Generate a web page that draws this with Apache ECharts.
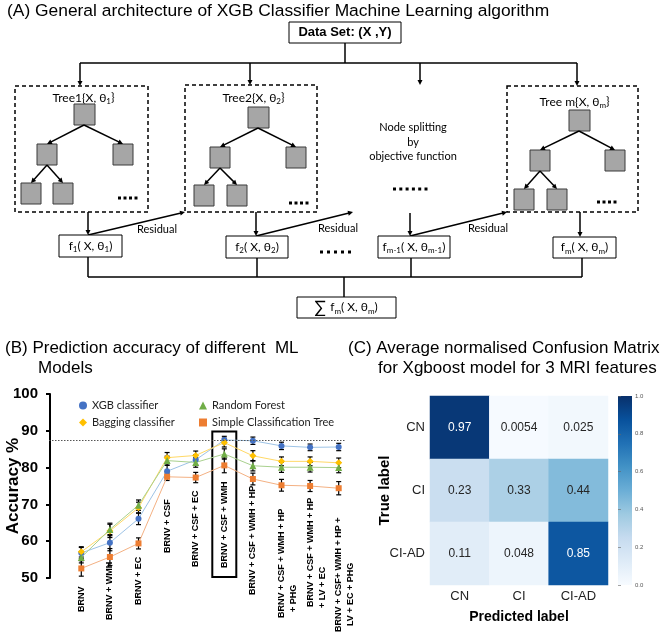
<!DOCTYPE html>
<html>
<head>
<meta charset="utf-8">
<script src="https://cdn.jsdelivr.net/npm/echarts@6/dist/echarts.min.js"></script>
<style>
  html, body { margin: 0; padding: 0; background: #fff; }
  #main { width: 668px; height: 632px; }
</style>
</head>
<body>
<div id="main"></div>
<script>
// ---- data (B) accuracy per feature set ----
const categories = [
  'BRNV', 'BRNV + WMH', 'BRNV + EC', 'BRNV + CSF', 'BRNV + CSF + EC', 'BRNV + CSF + WMH',
  'BRNV + CSF + WMH + HP', 'BRNV + CSF + WMH + HP\n+ PHG', 'BRNV + CSF + WMH + HP\n+ LV + EC',
  'BRNV + CSF+ WMH + HP +\nLV + EC + PHG'
]
const xgbAcc = [56.8, 59.6, 66.1, 79.0, 82.1, 87.5, 87.3, 85.9, 85.5, 85.6]
const bagAcc = [57.1, 62.8, 69.1, 82.7, 83.3, 86.8, 83.2, 81.7, 81.7, 81.3]
const rfAcc = [55.6, 63.2, 69.8, 81.9, 81.4, 83.7, 80.5, 80.1, 80.1, 80.0]
const dtAcc = [52.6, 55.7, 59.4, 77.5, 77.3, 80.6, 76.9, 75.2, 75.0, 74.4]
const xgbErr = [1.5, 2.2, 1.6, 1.6, 1.4, 1.0, 1.0, 1.0, 0.9, 1.0]
const bagErr = [1.4, 1.8, 1.5, 1.4, 1.2, 1.2, 1.4, 1.2, 1.2, 1.3]
const rfErr = [1.5, 1.7, 1.4, 1.2, 1.3, 1.4, 1.4, 1.4, 1.3, 1.4]
const dtErr = [2.1, 2.3, 1.5, 1.0, 1.4, 2.0, 1.6, 1.6, 1.5, 1.8]
const refAcc = 87.3
const yTicks = [50, 60, 70, 80, 90, 100]

// ---- data (C) confusion matrix ----
const cmLabels = ['CN', 'CI', 'CI-AD']
const cmValues = [
  [0.97, 0.0054, 0.025],
  [0.23, 0.33, 0.44],
  [0.11, 0.048, 0.85]
]
const cbTicks = [0, 0.2, 0.4, 0.6, 0.8, 1.0]

// label layout (screen y where each rotated line starts)
const labelStart = [[612], [620], [605], [553], [567], [568], [595], [618, 612], [607, 608], [632, 626]]

const FONT = '"Liberation Sans", Arial, sans-serif'
const SOFT = 'Lato, "Noto Sans", sans-serif'
const blues = ['#f7fbff', '#deebf7', '#c6dbef', '#9ecae1', '#6baed6', '#4292c6', '#2171b5', '#08519c', '#08306b']

const chart = echarts.init(document.getElementById('main'))

// ---- diagram helpers ----
function ln (x1, y1, x2, y2, w) {
  return { type: 'line', silent: true, shape: { x1, y1, x2, y2 }, style: { stroke: '#000', lineWidth: w || 1.5 } }
}
function arrow (x1, y1, x2, y2) {
  const a = Math.atan2(y2 - y1, x2 - x1)
  const s = 5
  const p1 = [x2 - s * Math.cos(a) + 2.5 * Math.sin(a), y2 - s * Math.sin(a) - 2.5 * Math.cos(a)]
  const p2 = [x2 - s * Math.cos(a) - 2.5 * Math.sin(a), y2 - s * Math.sin(a) + 2.5 * Math.cos(a)]
  return [
    ln(x1, y1, x2 - 3 * Math.cos(a), y2 - 3 * Math.sin(a)),
    { type: 'polygon', silent: true, shape: { points: [[x2, y2], p1, p2] }, style: { fill: '#000' } }
  ]
}
function node (x, y, w, h) {
  return { type: 'rect', silent: true, shape: { x, y, width: w, height: h }, style: { fill: '#a6a6a6', stroke: '#3a3a3a', lineWidth: 1 } }
}
function box (x, y, w, h, dashed) {
  return {
    type: 'rect', silent: true, shape: { x, y, width: w, height: h },
    style: { fill: dashed ? 'none' : '#fff', stroke: '#000', lineWidth: dashed ? 1.5 : 1, lineDash: dashed ? [4, 3] : null }
  }
}
function txt (x, y, text, font, opt) {
  return {
    type: 'text', silent: true, x, y,
    style: Object.assign({ text, font, fill: '#000', align: 'center', verticalAlign: 'middle' }, opt || {})
  }
}
function dots (x0, y, n, gap) {
  const out = []
  for (let i = 0; i < n; i++) {
    out.push({ type: 'rect', silent: true, shape: { x: x0 + i * gap, y: y - 1.5, width: 3, height: 3 }, style: { fill: '#000' } })
  }
  return out
}
const subRich = {
  n: { fontSize: 12, fontFamily: SOFT, lineHeight: 15, fill: '#000' },
  s: { fontSize: 8, fontFamily: SOFT, lineHeight: 8, verticalAlign: 'bottom', fill: '#000' },
  b: { fontSize: 17, fontFamily: SOFT, lineHeight: 15, fill: '#000' }
}
function subTxt (x, y, text, align) {
  return {
    type: 'text', silent: true, x, y,
    style: { text, rich: subRich, font: '12px ' + SOFT, fill: '#000', align: align || 'center', verticalAlign: 'middle' }
  }
}
// tree title "TreeK{X, θk}" : rich part right-aligned at xr, closing brace after it
function treeTitle (xr, y, name, sub) {
  return [
    subTxt(xr, y, '{n|' + name + '{X, θ}{s|' + sub + '}', 'right'),
    txt(xr, y - 0.5, '}', '12px ' + SOFT, { align: 'left' })
  ]
}
function tree (t, rx, ry, lc, rc, g1, g2, dx) {
  return [
    ...treeTitle(t[0], t[1], t[2], t[3]),
    node(rx, ry, 21, 21), node(lc[0], lc[1], 20, 21), node(rc[0], rc[1], 20, 21),
    node(g1[0], g1[1], 20, 21), node(g2[0], g2[1], 20, 21),
    ...arrow(rx + 10, ry + 21, lc[0] + 10, lc[1]),
    ...arrow(rx + 10, ry + 21, rc[0] + 10, rc[1]),
    ...arrow(lc[0] + 10, lc[1] + 21, g1[0] + 10, g1[1]),
    ...arrow(lc[0] + 10, lc[1] + 21, g2[0] + 10, g2[1]),
    ...dots(dx[0], dx[1], 4, 5.5)
  ]
}

const cbStops = blues.map((c, i) => ({ offset: i / (blues.length - 1), color: c }))

const staticGraphic = [
  // titles
  txt(7, 11, '(A) General architecture of XGB Classifier Machine Learning algorithm', '17.4px ' + FONT, { align: 'left' }),
  txt(5, 348, '(B) Prediction accuracy of different  ML', '17px ' + FONT, { align: 'left' }),
  txt(38, 368, 'Models', '17px ' + FONT, { align: 'left' }),
  txt(348, 348, '(C) Average normalised Confusion Matrix', '17px ' + FONT, { align: 'left' }),
  txt(378, 368, 'for Xgboost model for 3 MRI features', '17px ' + FONT, { align: 'left' }),
  // data set
  box(289, 22, 112, 21),
  txt(345, 32.5, 'Data Set: (X ,Y)', 'bold 13px ' + FONT),
  ln(345, 43, 345, 63), ln(80, 63, 577, 63),
  ...arrow(80, 63, 80, 86), ...arrow(250, 63, 250, 85), ...arrow(420, 63, 420, 85), ...arrow(577, 63, 577, 86),
  // tree boxes
  box(15, 86, 133, 126, true), box(185, 85, 132, 127, true), box(507, 86, 131, 126, true),
  ...tree([111, 98, 'Tree1', '1'], 74, 104, [37, 144], [113, 144], [21, 183], [53, 183], [118, 198]),
  ...tree([281, 98, 'Tree2', '2'], 248, 107, [210, 147], [286, 147], [194, 185], [227, 185], [289, 203]),
  ...tree([606, 102, 'Tree m', 'm'], 569, 110, [530, 150], [605, 150], [514, 189], [547, 189], [597, 202]),
  txt(413, 127, 'Node splitting', '11px ' + SOFT),
  txt(413, 142, 'by', '11px ' + SOFT),
  txt(413, 156, 'objective function', '11px ' + SOFT),
  ...dots(393, 189, 6, 6.3),
  // arrows to f boxes
  ...arrow(88, 212, 88, 235), ...arrow(256, 212, 256, 236), ...arrow(410, 213, 410, 236), ...arrow(580, 212, 580, 237),
  ...arrow(88, 235, 185, 212), ...arrow(256, 236, 353, 212), ...arrow(410, 236, 507, 212),
  txt(157, 229, 'Residual', '11px ' + SOFT), txt(338, 228, 'Residual', '11px ' + SOFT), txt(488, 228, 'Residual', '11px ' + SOFT),
  ...dots(320, 252, 5, 7),
  // f boxes
  box(59, 235, 63, 22), subTxt(90.5, 246, '{n|f}{s|1}{n|( X, θ}{s|1}{n|)}'),
  box(226, 236, 62, 22), subTxt(257, 247, '{n|f}{s|2}{n|( X, θ}{s|2}{n|)}'),
  box(378, 236, 72, 22), subTxt(414, 247, '{n|f}{s|m-1}{n|( X, θ}{s|m-1}{n|)}'),
  box(553, 237, 63, 21), subTxt(584.5, 247.5, '{n|f}{s|m}{n|( X, θ}{s|m}{n|)}'),
  // combine
  ln(88, 257, 88, 277), ln(257, 258, 257, 277), ln(411, 258, 411, 277), ln(582, 258, 582, 277),
  ln(88, 277, 582, 277), ln(344, 277, 344, 297),
  box(297, 297, 99, 21), subTxt(346, 307.5, '{b|∑ }{n|f}{s|m}{n|( X, θ}{s|m}{n|)}'),
  // colour bar for the confusion matrix
  {
    type: 'rect', silent: true, shape: { x: 618, y: 396, width: 14, height: 189 },
    style: { fill: { type: 'linear', x: 0, y: 1, x2: 0, y2: 0, colorStops: cbStops } }
  }
]

// ---- series ----
function lineSeries (name, data, symbol, mark, lineCol, size) {
  return {
    name, type: 'line', data, symbol, symbolSize: size, xAxisIndex: 0, yAxisIndex: 0, z: 3,
    itemStyle: { color: mark }, lineStyle: { color: lineCol, width: 1 }, emphasis: { disabled: true }
  }
}
const errData = []
;[[xgbAcc, xgbErr], [bagAcc, bagErr], [rfAcc, rfErr], [dtAcc, dtErr]].forEach(([acc, err]) => {
  acc.forEach((v, i) => errData.push([i, v - err[i], v + err[i]]))
})
function errRender (params, api) {
  const lo = api.coord([api.value(0), api.value(1)])
  const hi = api.coord([api.value(0), api.value(2)])
  const st = { stroke: '#000', lineWidth: 1.2 }
  return {
    type: 'group',
    children: [
      { type: 'line', shape: { x1: lo[0], y1: lo[1], x2: hi[0], y2: hi[1] }, style: st },
      { type: 'line', shape: { x1: lo[0] - 2.5, y1: lo[1], x2: lo[0] + 2.5, y2: lo[1] }, style: st },
      { type: 'line', shape: { x1: hi[0] - 2.5, y1: hi[1], x2: hi[0] + 2.5, y2: hi[1] }, style: st }
    ]
  }
}

const heatData = []
cmValues.forEach((row, i) => row.forEach((v, j) => {
  heatData.push({ value: [j, i, v], label: { color: v > 0.6 ? '#fff' : '#262626' } })
}))

const xgbSeries = lineSeries('XGB classifier', xgbAcc, 'circle', '#4472c4', '#9dc3e6', 6)
xgbSeries.markLine = {
  silent: true, symbol: 'none', label: { show: false },
  lineStyle: { color: '#555', type: [1.5, 1.5], width: 1 },
  data: [[{ x: 49, yAxis: refAcc }, { x: 346, yAxis: refAcc }]]
}

const option = {
  animation: false,
  backgroundColor: '#fff',
  textStyle: { fontFamily: FONT },
  grid: [
    { left: 67, top: 394, width: 286, height: 184, outerBoundsMode: 'none' },
    { left: 430, top: 396, width: 178, height: 189, outerBoundsMode: 'none' },
    { left: 618, top: 396, width: 14, height: 189, outerBoundsMode: 'none' }
  ],
  legend: [
    {
      orient: 'vertical', left: 74, top: 395, itemWidth: 8, itemHeight: 8, itemGap: 6, selectedMode: false,
      textStyle: { fontFamily: SOFT, fontSize: 11, color: '#222' },
      data: [{ name: 'XGB classifier', icon: 'circle' }, { name: 'Bagging classifier', icon: 'diamond' }]
    },
    {
      orient: 'vertical', left: 194, top: 395, itemWidth: 8, itemHeight: 8, itemGap: 6, selectedMode: false,
      textStyle: { fontFamily: SOFT, fontSize: 11, color: '#222' },
      data: [{ name: 'Random Forest', icon: 'triangle' }, { name: 'Simple Classification Tree', icon: 'rect' }]
    }
  ],
  xAxis: [
    {
      gridIndex: 0, type: 'category', data: categories, boundaryGap: true,
      axisLine: { show: false }, axisTick: { show: false }, axisLabel: { show: false }
    },
    {
      gridIndex: 1, type: 'category', data: cmLabels,
      axisLine: { show: false }, axisTick: { show: false },
      axisLabel: { fontSize: 13, color: '#222', margin: 5 },
      name: 'Predicted label', nameLocation: 'middle', nameGap: 25, nameMoveOverlap: false,
      nameTextStyle: { fontSize: 14, fontWeight: 'bold', color: '#000' }
    },
    { gridIndex: 2, type: 'value', show: false }
  ],
  yAxis: [
    {
      gridIndex: 0, type: 'value', min: yTicks[0], max: yTicks[yTicks.length - 1], interval: 10, offset: 17,
      axisLine: { show: true, lineStyle: { color: '#000', width: 2 } },
      axisTick: { show: true, length: 4, lineStyle: { color: '#000', width: 2 } },
      axisLabel: { fontSize: 15, fontWeight: 'bold', color: '#000', margin: 12 },
      splitLine: { show: false },
      name: 'Accuracy %', nameLocation: 'middle', nameGap: 28, nameRotate: 90, nameMoveOverlap: false,
      nameTextStyle: { fontSize: 17, fontWeight: 'bold', color: '#000' }
    },
    {
      gridIndex: 1, type: 'category', data: cmLabels, inverse: true,
      axisLine: { show: false }, axisTick: { show: false },
      axisLabel: { fontSize: 13, color: '#222', margin: 5 },
      name: 'True label', nameLocation: 'middle', nameGap: 38, nameRotate: 90, nameMoveOverlap: false,
      nameTextStyle: { fontSize: 15, fontWeight: 'bold', color: '#000' }
    },
    {
      gridIndex: 2, type: 'value', position: 'right', min: cbTicks[0], max: cbTicks[cbTicks.length - 1], interval: 0.2,
      axisLine: { show: false }, splitLine: { show: false },
      axisTick: { show: true, length: 3, lineStyle: { color: '#666', width: 0.6 } },
      axisLabel: { fontSize: 6, color: '#555', margin: 3, formatter: v => v.toFixed(1) }
    }
  ],
  visualMap: {
    type: 'continuous', show: false, seriesIndex: 5, min: 0, max: 1,
    inRange: { color: blues }
  },
  series: [
    {
      type: 'custom', name: 'err', renderItem: errRender, data: errData, xAxisIndex: 0, yAxisIndex: 0,
      z: 2, silent: true, encode: { x: 0, y: [1, 2] }
    },
    xgbSeries,
    lineSeries('Bagging classifier', bagAcc, 'diamond', '#ffc000', '#ffd966', 7),
    lineSeries('Random Forest', rfAcc, 'triangle', '#70ad47', '#a9d18e', 7),
    lineSeries('Simple Classification Tree', dtAcc, 'rect', '#ed7d31', '#f4b183', 6),
    {
      type: 'heatmap', xAxisIndex: 1, yAxisIndex: 1, data: heatData,
      label: { show: true, fontSize: 12, fontFamily: FONT, formatter: p => String(p.value[2]) },
      emphasis: { disabled: true }
    }
  ],
  graphic: staticGraphic
}

chart.setOption(option)

// rotated x labels + highlight box, placed through the axis scale
const dyn = []
categories.forEach((c, i) => {
  const cx = chart.convertToPixel({ xAxisIndex: 0, yAxisIndex: 0 }, [i, 50])[0]
  c.split('\n').forEach((line, k) => {
    dyn.push({
      type: 'text', silent: true, x: cx + k * 12, y: labelStart[i][k], rotation: Math.PI / 2,
      style: { text: line, font: 'bold 9px ' + FONT, fill: '#000', align: 'left', verticalAlign: 'middle' }
    })
  })
})
const bestIdx = categories.indexOf('BRNV + CSF + WMH')
const boxTop = chart.convertToPixel({ xAxisIndex: 0, yAxisIndex: 0 }, [bestIdx, 89.8])
const boxBot = chart.convertToPixel({ xAxisIndex: 0, yAxisIndex: 0 }, [bestIdx, 50.3])
dyn.push({
  type: 'rect', silent: true, shape: { x: boxTop[0] - 12, y: boxTop[1], width: 24, height: boxBot[1] - boxTop[1] },
  style: { fill: 'none', stroke: '#000', lineWidth: 2 }
})
chart.setOption({ graphic: staticGraphic.concat(dyn) })
</script>
</body>
</html>
